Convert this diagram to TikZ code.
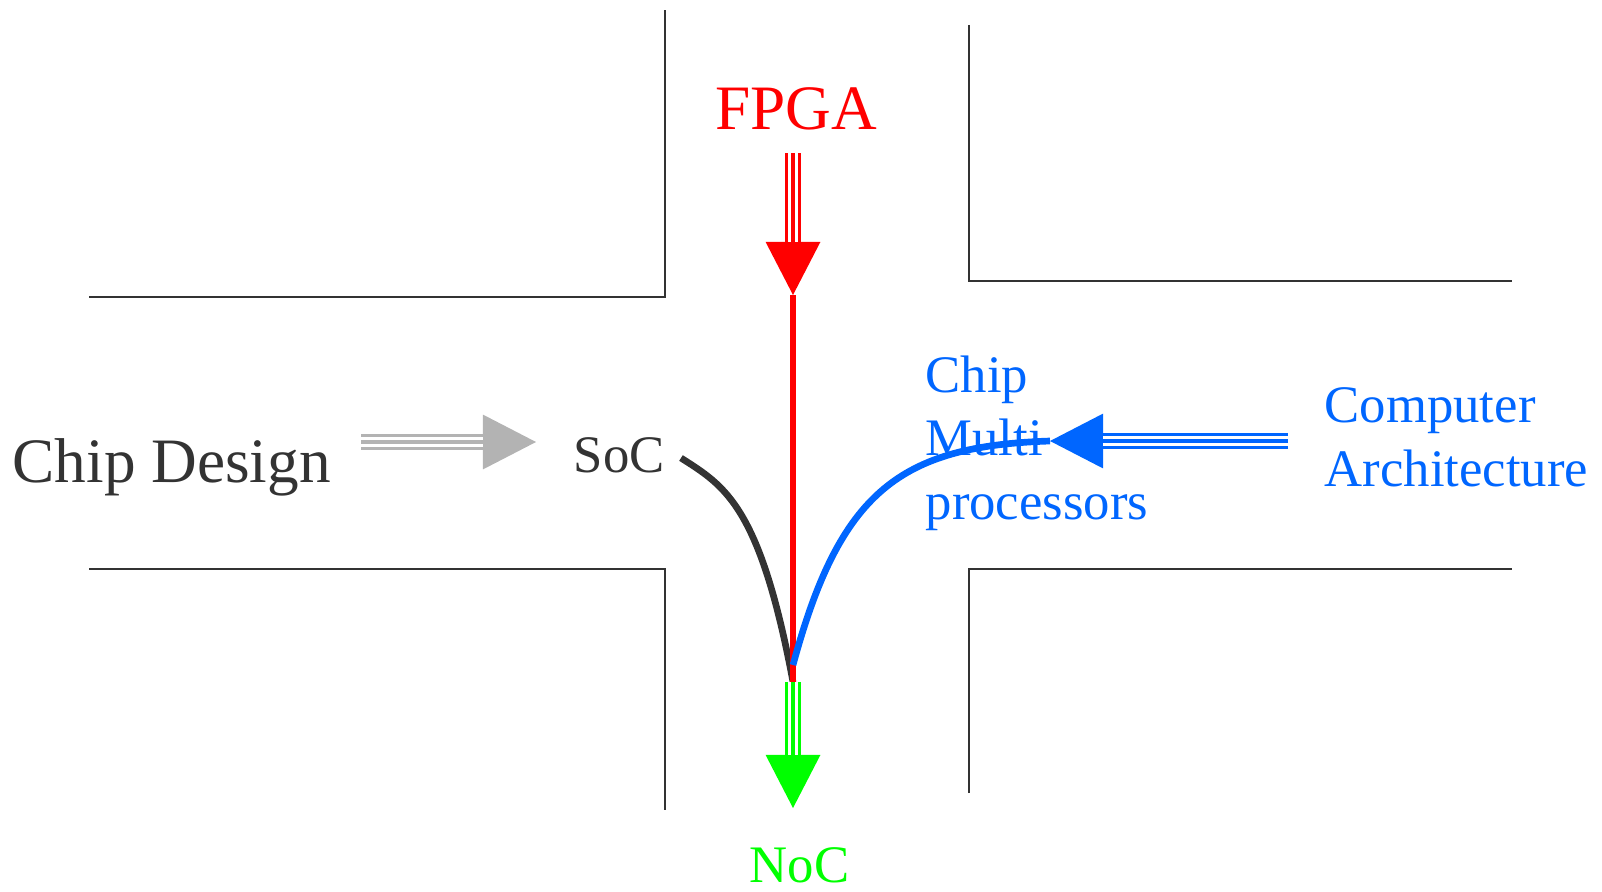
\documentclass[tikz,border=0pt]{standalone}
\usepackage{fontspec}
\setmainfont{Liberation Serif}
\usetikzlibrary{arrows.meta, positioning, calc}
\usepackage{xcolor}
\definecolor{fpgaRed}  {RGB}{255, 0,   0}
\definecolor{nocGreen} {RGB}{0,   255, 0}
\definecolor{archBlue} {RGB}{0,   102, 255}
\definecolor{socGray}  {RGB}{51,  51,  51}
\definecolor{arrGray}  {RGB}{179, 179, 179}

\begin{document}
\begin{tikzpicture}[
  wall/.style = {socGray, line width=0.45pt},
  big/.style = {font=\fontsize{18}{21}\selectfont},
  small/.style = {font=\fontsize{15}{18}\selectfont, inner sep=0pt},
  multi/.style = {small, align=left},
  triple/.style = {
    #1, line width=4.55pt,
    -{Triangle[length=15.1pt, width=15.6pt, line width=0pt]},
    postaction={draw, -, white, line width=3.1pt, shorten >=15pt},
    postaction={draw, -, #1, line width=1.4pt, shorten >=15pt}
  },
  flow/.style = {#1, line width=1.9pt}
]
  \useasboundingbox (0,0) rectangle (16.02,8.91);

  % crossing walls
  \draw[wall] (0.89,5.94) -| (6.65,8.81);
  \draw[wall] (9.69,8.66) |- (15.12,6.10);
  \draw[wall] (0.89,3.22) -| (6.65,0.81);
  \draw[wall] (9.69,0.98) |- (15.12,3.22);

  % labels
  \node[big, text=fpgaRed, anchor=base] (fpga) at (7.96,7.62) {FPGA};
  \node[big, text=socGray, anchor=base west, inner sep=0pt] (cd) at (0.12,4.09) {Chip Design};
  \node[small, text=socGray, anchor=base west] (soc) at (5.73,4.19) {SoC};
  \node[small, text=nocGreen, anchor=base west] (noc) at (7.49,0.09) {NoC};
  \node[multi, text=archBlue, anchor=base west] (cmp) at (9.25,3.72)
    {Chip\\Multi\\processors};
  \node[multi, text=archBlue, anchor=base west] (ca) at (13.24,4.05)
    {Computer\\Architecture};

  \coordinate (fpgaIn) at (7.93,7.38);
  \coordinate (fpgaTip) at (7.93,5.96);
  \coordinate (join) at (7.93,2.09);
  \coordinate (nocTip) at (7.93,0.83);
  \coordinate (cdOut) at (3.61,4.49);
  \coordinate (cdTip) at (5.36,4.49);
  \coordinate (caOut) at (12.88,4.50);
  \coordinate (caTip) at (10.50,4.50);

  % streams
  \draw[triple=arrGray] (cdOut) -- (cdTip);
  \draw[flow=socGray] (6.81,4.33) .. controls (7.25,4.05) and (7.6,3.85) .. (join);
  \draw[triple=fpgaRed] (fpgaIn) -- (fpgaTip);
  \draw[flow=fpgaRed] (fpgaTip) -- (join);
  \draw[flow=archBlue] (caTip) .. controls (9.0,4.45) and (8.4,4.0) .. ($(join)+(0,0.17)$);
  \draw[triple=archBlue] (caOut) -- (caTip);
  \draw[triple=nocGreen] (join) -- (nocTip);
\end{tikzpicture}
\end{document}
